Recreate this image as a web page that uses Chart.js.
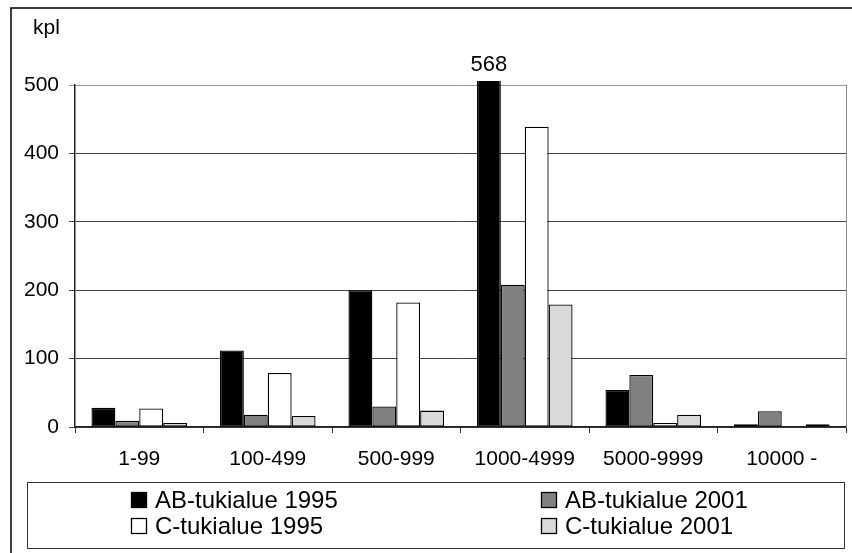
<!DOCTYPE html>
<html>
<head>
<meta charset="utf-8">
<script src="https://cdn.jsdelivr.net/npm/chart.js@4.4.1/dist/chart.umd.min.js"></script>
<style>
  html, body { margin: 0; padding: 0; background: #fff; }
</style>
</head>
<body>
<canvas id="chart1" width="852" height="553"></canvas>
<script>
// data (kpl = count)
const categories = ['1-99', '100-499', '500-999', '1000-4999', '5000-9999', '10000 -'];
const seriesNames = ['AB-tukialue 1995', 'AB-tukialue 2001', 'C-tukialue 1995', 'C-tukialue 2001'];
const ab1995 = [28, 112, 200, 568, 54, 4];
const ab2001 = [9, 18, 30, 208, 76, 23];
const c1995 = [27, 79, 182, 439, 6, 0];
const c2001 = [6, 16, 24, 179, 18, 4];
const yMax = 500;
const yStep = 100;

const FONT = '"Liberation Sans", Arial, sans-serif';
const fills = ['#000000', '#808080', '#ffffff', '#d9d9d9'];

document.addEventListener("DOMContentLoaded", function() {
    const ctx1 = document.getElementById('chart1').getContext('2d');

    const framePlugin = {
        id: 'frame',
        beforeDraw(chart) {
            const c = chart.ctx;
            c.save();
            c.fillStyle = '#fff';
            c.fillRect(0, 0, chart.width, chart.height);
            c.restore();
        },
        afterDraw(chart) {
            const c = chart.ctx;
            const a = chart.chartArea;
            c.save();
            // outer border
            c.strokeStyle = '#000';
            c.lineWidth = 1.5;
            c.strokeRect(11, 8, 850, 552);
            // right edge of plot area
            c.strokeStyle = '#888';
            c.lineWidth = 1;
            c.beginPath();
            c.moveTo(a.right + 0.5, a.top);
            c.lineTo(a.right + 0.5, a.bottom);
            c.stroke();
            // unit label
            c.fillStyle = '#000';
            c.font = '21px ' + FONT;
            c.textBaseline = 'middle';
            c.textAlign = 'left';
            c.fillText('kpl', 33, 28);
            // legend box
            c.strokeStyle = '#333';
            c.lineWidth = 1;
            c.strokeRect(27.5, 482.5, 817, 66);
            const cols = [131, 541];
            const rows = [500, 526];
            chart.data.datasets.forEach((ds, i) => {
                const x = cols[i % 2];
                const y = rows[Math.floor(i / 2)];
                c.fillStyle = ds.backgroundColor;
                c.fillRect(x, y - 8, 16, 16);
                c.strokeStyle = '#000';
                c.lineWidth = 1.3;
                c.strokeRect(x + 0.5, y - 7.5, 15, 15);
                c.fillStyle = '#000';
                c.font = '24px ' + FONT;
                c.textBaseline = 'middle';
                c.fillText(ds.label, x + 24, y + 1);
            });
            c.restore();
        },
        afterDatasetsDraw(chart) {
            // value label for the bar that runs off the scale
            const c = chart.ctx;
            const meta = chart.getDatasetMeta(0);
            c.save();
            c.fillStyle = '#000';
            c.font = '22px ' + FONT;
            c.textAlign = 'center';
            c.textBaseline = 'middle';
            ab1995.forEach((v, i) => {
                if (v > yMax) {
                    c.fillText(String(v), meta.data[i].x, chart.chartArea.top - 20);
                }
            });
            c.restore();
        }
    };

    const series = [ab1995, ab2001, c1995, c2001];

    new Chart(ctx1, {
        type: 'bar',
        data: {
            labels: categories,
            datasets: series.map((d, i) => ({
                label: seriesNames[i],
                data: d,
                backgroundColor: fills[i],
                borderColor: '#000',
                borderWidth: 1.3,
                borderSkipped: false,
                clip: {left: false, top: 4, right: false, bottom: 0}
            }))
        },
        options: {
            responsive: false,
            animation: false,
            devicePixelRatio: 1,
            layout: { padding: { top: 85, right: 6, left: 0, bottom: 0 } },
            datasets: {
                bar: { categoryPercentage: 0.744, barPercentage: 1 }
            },
            plugins: {
                legend: { display: false },
                tooltip: { enabled: false }
            },
            scales: {
                x: {
                    afterFit: function(scale) { scale.height = 126; },
                    grid: {
                        display: true,
                        drawOnChartArea: false,
                        drawTicks: true,
                        tickLength: 6,
                        color: '#333',
                        offset: true
                    },
                    border: { color: '#222', width: 1.5 },
                    ticks: {
                        color: '#000',
                        font: { family: FONT, size: 21 },
                        padding: 14,
                        autoSkip: false,
                        maxRotation: 0
                    }
                },
                y: {
                    min: 0,
                    max: yMax,
                    afterFit: function(scale) { scale.width = 75; },
                    grid: {
                        color: function(c) { return c.tick && c.tick.value === yMax ? '#999' : '#444'; },
                        tickLength: 6
                    },
                    border: { color: '#222', width: 1.5 },
                    ticks: {
                        stepSize: yStep,
                        color: '#000',
                        font: { family: FONT, size: 21 },
                        padding: 10
                    }
                }
            }
        },
        plugins: [framePlugin]
    });
});
</script>
</body>
</html>
